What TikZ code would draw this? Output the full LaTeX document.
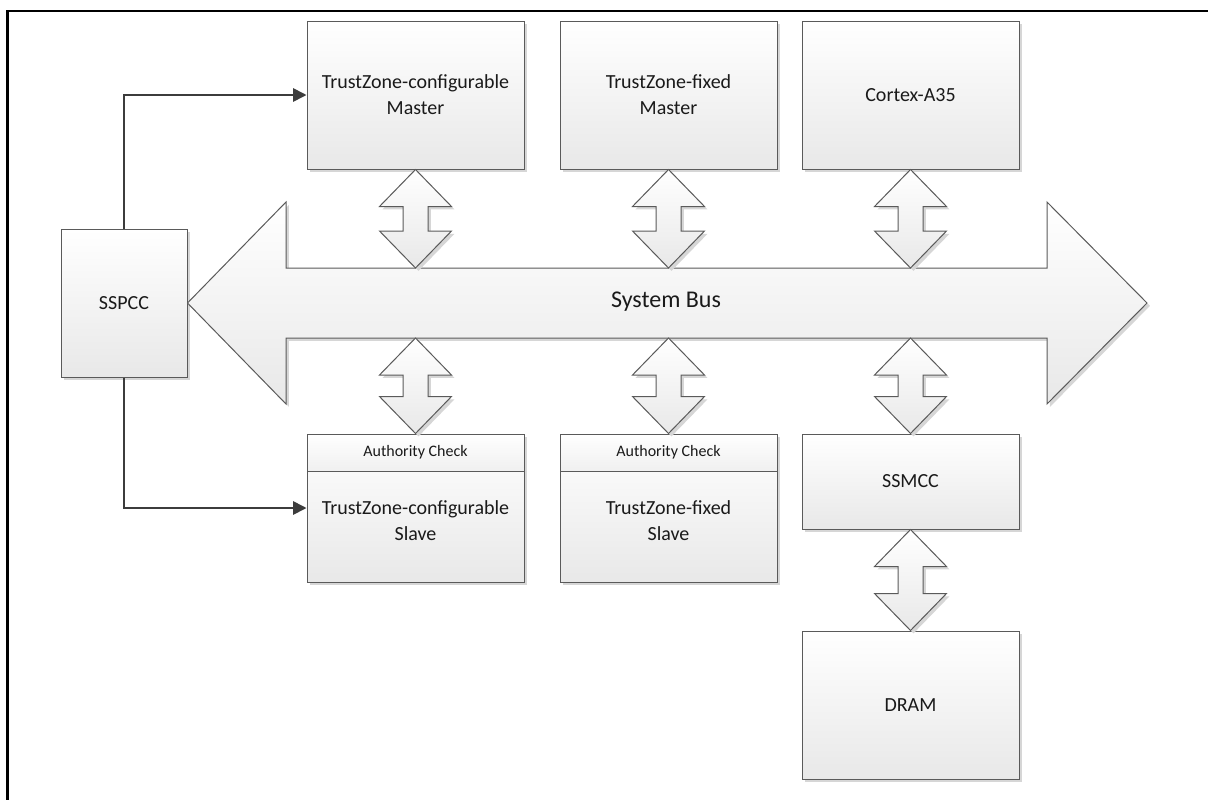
\documentclass[tikz,border=0pt]{standalone}
\usepackage{fontspec}
\setmainfont{Carlito}
\usetikzlibrary{arrows.meta,calc,shadows}
\definecolor{boxline}{HTML}{5A5A5A}
\definecolor{txtcol}{HTML}{1A1A1A}
\definecolor{connc}{HTML}{3C3C3C}
\tikzset{
  shade3d/.style={top color=white, bottom color=black!9,
    general shadow={fill=black!16, shadow xshift=2.2pt, shadow yshift=-2.2pt}},
  box/.style={draw=boxline, line width=0.75pt, shade3d, inner sep=0pt,
    minimum width=162.75pt, minimum height=111pt, align=center,
    font=\fontsize{15pt}{19.5pt}\selectfont, text=txtcol},
  hdr/.style={draw=boxline, line width=0.75pt, top color=white, bottom color=black!6,
    inner sep=0pt, minimum width=162.75pt, minimum height=27.75pt,
    font=\fontsize{12pt}{14pt}\selectfont, text=txtcol},
  txt/.style={inner sep=0pt, align=center, font=\fontsize{15pt}{19.5pt}\selectfont, text=txtcol},
  blockarrow/.style={draw=boxline, line width=0.75pt, shade3d, line join=miter},
  conn/.style={draw=connc, line width=1.25pt, -{Triangle[length=10pt,width=10pt]}},
  frameline/.style={draw=black, line width=1.6pt}
}
\newcommand{\vdbl}[2]{%
  \path[blockarrow] (#1) -- ($(#1)+(36,37)$) -- ($(#1)+(12.5,37)$) -- ($(#2)+(12.5,-37)$)
   -- ($(#2)+(36,-37)$) -- (#2) -- ($(#2)+(-36,-37)$) -- ($(#2)+(-12.5,-37)$)
   -- ($(#1)+(-12.5,37)$) -- ($(#1)+(-36,37)$) -- cycle;}
\begin{document}
\begin{tikzpicture}[x=0.75pt,y=-0.75pt]
\useasboundingbox (0,0) rectangle (1208,800);
% frame
\draw[frameline] (7.5,800) -- (7.5,11) -- (1208,11);

% nodes
\node[box] (m1) at (415.5,95) {TrustZone-configurable\\Master};
\node[box] (m2) at (668.5,95) {TrustZone-fixed\\Master};
\node[box] (cpu) at (910.5,95) {Cortex-A35};
\node[box, minimum width=94.5pt] (sspcc) at (124,303) {SSPCC};

\node[box] (s1) at (415.5,508) {};
\node[hdr, anchor=north] (s1h) at (s1.north) {Authority Check};
\node[txt] (s1t) at (415.5,521) {TrustZone-configurable\\Slave};

\node[box] (s2) at (668.5,508) {};
\node[hdr, anchor=north] (s2h) at (s2.north) {Authority Check};
\node[txt] (s2t) at (668.5,521) {TrustZone-fixed\\Slave};

\node[box, minimum height=71.25pt] (ssmcc) at (910.5,481.5) {SSMCC};
\node[box] (dram) at (910.5,705) {DRAM};

% system bus
\coordinate (busR) at (1147,303);
\path[blockarrow] (sspcc.east) -- (286,202) -- (286,268) -- (1047,268) -- (1047,202)
  -- (busR) -- (1047,404) -- (1047,338) -- (286,338) -- (286,404) -- cycle;
\node[txt, font=\fontsize{18pt}{22pt}\selectfont] (bus) at (666,302) {System Bus};

% bus-top and bus-bottom points
\coordinate (t1) at (m1.south |- 0,268);
\coordinate (t2) at (m2.south |- 0,268);
\coordinate (t3) at (cpu.south |- 0,268);
\coordinate (b1) at (s1.north |- 0,338);
\coordinate (b2) at (s2.north |- 0,338);
\coordinate (b3) at (ssmcc.north |- 0,338);

\vdbl{m1.south}{t1}
\vdbl{m2.south}{t2}
\vdbl{cpu.south}{t3}
\vdbl{b1}{s1.north}
\vdbl{b2}{s2.north}
\vdbl{b3}{ssmcc.north}
\vdbl{ssmcc.south}{dram.north}

% connectors
\draw[conn] (sspcc.north) |- (m1.west);
\draw[conn] (sspcc.south) |- (s1.west);
\end{tikzpicture}
\end{document}
